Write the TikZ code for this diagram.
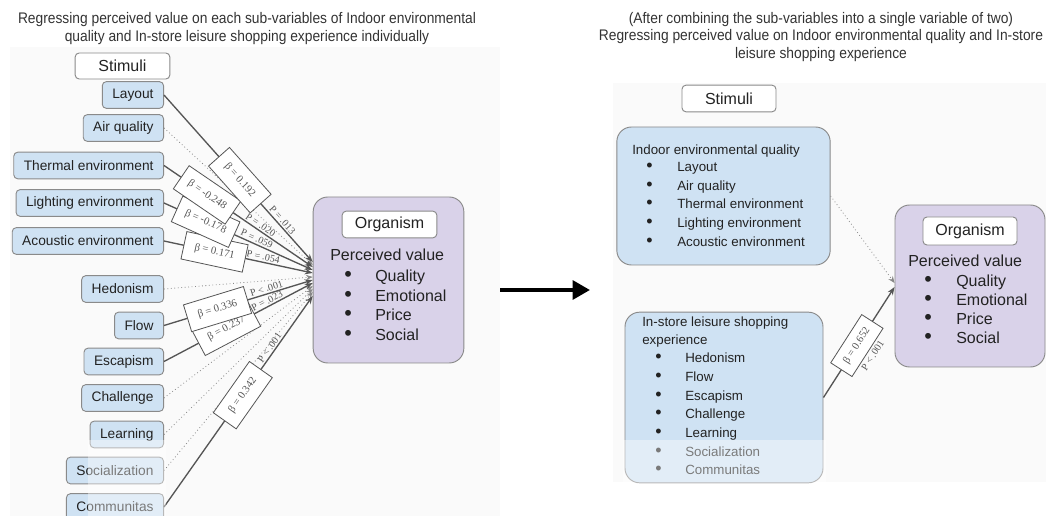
\documentclass[tikz,border=0pt]{standalone}
\usepackage{fontspec}
\setmainfont{Liberation Sans}
\newfontfamily\serifb{Liberation Serif}
\newfontfamily\titlef[FakeStretch=0.9]{Liberation Sans}
\usetikzlibrary{arrows.meta,calc}
\definecolor{boxblue}{HTML}{CFE2F3}
\definecolor{boxpurple}{HTML}{D9D2E9}
\definecolor{edgegray}{HTML}{8A8A8A}
\definecolor{linegray}{HTML}{555555}
\definecolor{txt}{HTML}{222222}
\definecolor{titlec}{HTML}{333333}
\newcommand{\bul}{\scalebox{1.35}{\textbullet}}
\begin{document}
\begin{tikzpicture}[x=0.75pt,y=-0.75pt,
  panel/.style={fill=black!2,draw=none},
  sbox/.style={draw=edgegray,fill=boxblue,rounded corners=3pt,line width=0.7pt,minimum height=20pt,inner xsep=7.5pt,inner ysep=0pt,font=\fontsize{10.3}{12}\selectfont,text=txt,anchor=east},
  hbox/.style={draw=edgegray,fill=white,rounded corners=3pt,line width=0.7pt,inner sep=0pt,font=\fontsize{12}{14}\selectfont,text=txt},
  bigbox/.style={draw=edgegray,line width=0.7pt,rounded corners=11pt,inner sep=0pt},
  otext/.style={anchor=mid west,inner sep=0pt,font=\fontsize{12}{14}\selectfont,text=txt},
  ltext/.style={anchor=mid west,inner sep=0pt,font=\fontsize{10}{12}\selectfont,text=txt},
  betabox/.style={draw=linegray,fill=white,line width=0.6pt,sloped,minimum width=47pt,minimum height=21pt,inner sep=1pt,font=\serifb\fontsize{8}{9}\selectfont,text=linegray},
  plab/.style={sloped,above,inner sep=1pt,font=\serifb\fontsize{7.5}{9}\selectfont,text=linegray},
  link/.style={draw=linegray,line width=1pt,-{Stealth[length=6pt,width=4.5pt]}},
  dlink/.style={draw=linegray!70,line width=0.6pt,dotted,-{Stealth[length=5pt,width=4pt]}},
  ttl/.style={font=\titlef\fontsize{11.5}{13}\selectfont,text=titlec,inner sep=0pt}
]
\useasboundingbox (0,0) rectangle (1046,516);
% panels
\fill[panel] (10,47) rectangle (500,516);
\fill[panel] (613,83) rectangle (1046,482);
% titles
\node[ttl] (t1) at (247,20) {Regressing perceived value on each sub-variables of Indoor environmental};
\node[ttl] (t2) at (247,38) {quality and In-store leisure shopping experience individually};
\node[ttl] (t3) at (821,20) {(After combining the sub-variables into a single variable of two)};
\node[ttl] (t4) at (821,37) {Regressing perceived value on Indoor environmental quality and In-store};
\node[ttl] (t5) at (821,55) {leisure shopping experience};

% ---------------- left panel ----------------
\node[hbox,minimum width=71pt,minimum height=19.5pt] (stim1) at (122.5,66) {Stimuli};
\node[sbox] (layout) at (164,95) {Layout};
\node[sbox] (air) at (164,128) {Air quality};
\node[sbox] (thermal) at (164,165.5) {Thermal environment};
\node[sbox] (lighting) at (164,203) {Lighting environment};
\node[sbox] (acoustic) at (164,241) {Acoustic environment};
\node[sbox] (hedonism) at (164,289) {Hedonism};
\node[sbox] (flow) at (164,325.5) {Flow};
\node[sbox] (escapism) at (164,361.5) {Escapism};
\node[sbox] (challenge) at (164,398) {Challenge};
\node[sbox] (learning) at (164,434.5) {Learning};
\node[sbox] (social) at (164,470.5) {Socialization};
\node[sbox] (communitas) at (164,507) {Communitas};

\node[bigbox,fill=boxpurple,minimum width=113pt,minimum height=124.5pt] (org) at (388.5,280) {};
\node[hbox,minimum width=71pt,minimum height=20pt] (orglab) at (389.5,224.5) {Organism};
\node[otext] (pv) at (330,257) {Perceived value};
\node[otext] (ob1) at (344,278) {\bul};
\node[otext] (ob2) at (344,298) {\bul};
\node[otext] (ob3) at (344,317) {\bul};
\node[otext] (ob4) at (344,337) {\bul};
\node[otext] (oq) at (375,278) {Quality};
\node[otext] (oe) at (375,298) {Emotional};
\node[otext] (op) at (375,317) {Price};
\node[otext] (os) at (375,337) {Social};

\coordinate (e1) at ($(org.west)+(0,-18)$);
\coordinate (e2) at ($(org.west)+(0,-15)$);
\coordinate (e3) at ($(org.west)+(0,-13)$);
\coordinate (e4) at ($(org.west)+(0,-10)$);
\coordinate (e5) at ($(org.west)+(0,-7)$);
\coordinate (e6) at ($(org.west)+(0,-3)$);
\coordinate (e7) at ($(org.west)+(0,0)$);
\coordinate (e8) at ($(org.west)+(0,3)$);
\coordinate (e9) at ($(org.west)+(0,6)$);
\coordinate (e10) at ($(org.west)+(0,9)$);
\coordinate (e11) at ($(org.west)+(0,12)$);
\coordinate (e12) at ($(org.west)+(0,16)$);

% dotted (non-significant)
\draw[dlink] (air.east) -- (e2);
\draw[dlink] (hedonism.east) -- (e6);
\draw[dlink] (challenge.east) -- (e9);
\draw[dlink] (learning.east) -- (e10);
\draw[dlink] (social.east) -- (e11);
% solid
\draw[link] (communitas.east) -- node[betabox,pos=.53]{β = 0.342} node[plab,pos=.74]{P < .001} (e12);
\draw[link] (escapism.east) -- node[betabox,pos=.42]{β = 0.237} node[plab,pos=.71]{P = .023} (e8);
\draw[link] (flow.east) -- node[betabox,pos=.36]{β = 0.336} node[plab,pos=.70]{P < .001} (e7);
\draw[link] (acoustic.east) -- node[betabox,pos=.34]{β = 0.171} node[plab,pos=.66]{P = .054} (e5);
\draw[link] (lighting.east) -- node[betabox,pos=.28]{β = -0.178} node[plab,pos=.61]{P = .059} (e4);
\draw[link] (thermal.east) -- node[betabox,pos=.29]{β = -0.248} node[plab,pos=.63]{P = .020} (e3);
\draw[link] (layout.east) -- node[betabox,pos=.51]{β = 0.192} node[plab,pos=.77]{P = .013} (e1);

% big arrow
\coordinate (a1) at (500,290);
\coordinate (a2) at (590,290);
\draw[line width=3pt,-{Triangle[length=13pt,width=14pt]}] (a1) -- (a2);

% ---------------- right panel ----------------
\node[hbox,minimum width=70.5pt,minimum height=20pt] (stim2) at (729,98.5) {Stimuli};
\node[bigbox,fill=boxblue,minimum width=160pt,minimum height=103.5pt] (indoor) at (723.5,196) {};
\node[ltext] (it) at (632,151) {Indoor environmental quality};
\node[ltext] (ib1) at (646,168) {\bul};
\node[ltext] (ib2) at (646,187) {\bul};
\node[ltext] (ib3) at (646,205) {\bul};
\node[ltext] (ib4) at (646,224) {\bul};
\node[ltext] (ib5) at (646,243) {\bul};
\node[ltext] (i1) at (677,168) {Layout};
\node[ltext] (i2) at (677,187) {Air quality};
\node[ltext] (i3) at (677,205) {Thermal environment};
\node[ltext] (i4) at (677,224) {Lighting environment};
\node[ltext] (i5) at (677,243) {Acoustic environment};

\node[bigbox,fill=boxblue,minimum width=148.5pt,minimum height=128pt] (instore) at (724,397.5) {};
\node[ltext] (st1) at (642,323) {In-store leisure shopping};
\node[ltext] (st2) at (642,341) {experience};
\node[ltext] (sb1) at (655,359) {\bul};
\node[ltext] (sb2) at (655,378) {\bul};
\node[ltext] (sb3) at (655,397) {\bul};
\node[ltext] (sb4) at (655,415) {\bul};
\node[ltext] (sb5) at (655,434) {\bul};
\node[ltext] (sb6) at (655,453) {\bul};
\node[ltext] (sb7) at (655,471) {\bul};
\node[ltext] (s1) at (685,359) {Hedonism};
\node[ltext] (s2) at (685,378) {Flow};
\node[ltext] (s3) at (685,397) {Escapism};
\node[ltext] (s4) at (685,415) {Challenge};
\node[ltext] (s5) at (685,434) {Learning};
\node[ltext] (s6) at (685,453) {Socialization};
\node[ltext] (s7) at (685,471) {Communitas};

\node[bigbox,fill=boxpurple,minimum width=112.5pt,minimum height=121.5pt] (org2) at (970,286) {};
\node[hbox,minimum width=70.5pt,minimum height=21pt] (orglab2) at (970,231) {Organism};
\node[otext] (pv2) at (908,263) {Perceived value};
\node[otext] (pb1) at (924,283) {\bul};
\node[otext] (pb2) at (924,302) {\bul};
\node[otext] (pb3) at (924,321) {\bul};
\node[otext] (pb4) at (924,340) {\bul};
\node[otext] (p1) at (956,283) {Quality};
\node[otext] (p2) at (956,302) {Emotional};
\node[otext] (p3) at (956,321) {Price};
\node[otext] (p4) at (956,340) {Social};

\coordinate (f1) at ($(org2.west)+(0,-3)$);
\coordinate (f2) at ($(org2.west)+(0,1)$);
\draw[dlink] (indoor.east) -- (f1);
\draw[link] (instore.east) -- node[betabox,pos=.47,minimum width=43pt,minimum height=19pt]{β = 0.652} node[plab,below,pos=.47,inner ysep=11pt]{P < .001} (f2);

% washed-out lower strip
\fill[white,opacity=0.4] (88,440) rectangle (166,516);
\fill[white,opacity=0.4] (623,440) rectangle (826,486);
\end{tikzpicture}
\end{document}
